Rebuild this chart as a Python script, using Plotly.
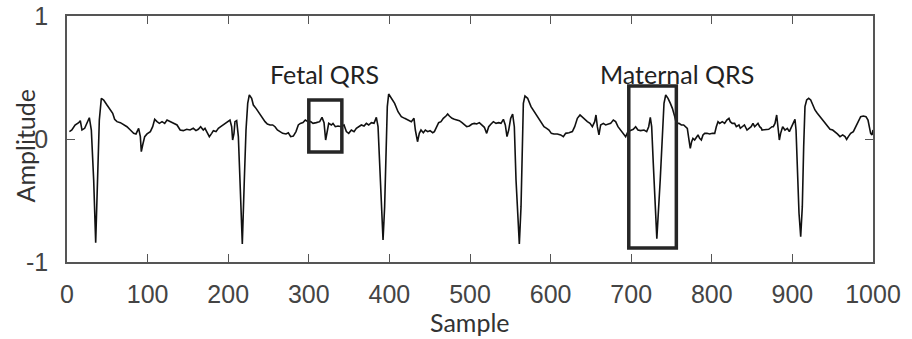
import plotly.graph_objects as go

# ---- data (sample index, amplitude) ----
sample = [
    3, 6, 10, 14.5, 16.5, 18.6, 21.9, 24.8, 27.7, 30.2, 33.1, 35.6, 38.0, 40.1, 42.6, 45.5, 49.6, 53.8,
    56.7, 59.1, 62.0, 66.2, 70.3, 74.4, 78.6, 82.7, 85.6, 88.9, 91.0, 92.2, 93.9, 96.4, 99.3, 103.4,
    106.3, 108.8, 111.7, 114.6, 117.9, 121.2, 124.1, 128.2, 132.3, 136.5, 140.4, 144.3, 148.5, 152.6,
    156.7, 160.0, 162.9, 165.8, 169.1, 171.2, 173.3, 176.6, 179.5, 181.6, 184.9, 187.8, 190.7, 194.0,
    197.3, 200.2, 202.2, 204.3, 205.5, 207.2, 208.4, 210.5, 212.6, 214.6, 217.5, 220.0, 222.1, 224.2,
    226.2, 229.1, 231.2, 234.5, 237.4, 239.5, 242.8, 245.7, 248.6, 251.9, 255.2, 258.1, 261.0, 264.3,
    267.6, 271.7, 274.6, 277.5, 280.8, 284.1, 287.0, 289.5, 292.8, 295.7, 299.0, 302.3, 305.2, 309.3,
    313.5, 316.4, 318.9, 320.9, 323.0, 324.7, 328.0, 330.0, 332.9, 336.2, 340.4, 343.7, 346.6, 349.5,
    352.8, 356.1, 359.0, 361.9, 365.2, 368.5, 371.4, 374.3, 377.6, 380.9, 383.8, 385.9, 387.9, 390.0,
    392.1, 394.1, 395.8, 397.4, 399.1, 402.4, 406.5, 410.7, 414.8, 418.9, 423.1, 427.2, 430.5, 432.2,
    434.9, 437.1, 439.2, 442.1, 444.6, 447.5, 450.4, 453.7, 455.8, 458.6, 461.1, 464.0, 466.9, 470.2,
    472.3, 474.4, 477.7, 480.6, 483.5, 486.8, 490.1, 493.0, 495.9, 499.2, 502.5, 505.4, 508.3, 511.6,
    514.9, 517.8, 520.7, 523.2, 526.1, 529.0, 532.3, 535.6, 538.5, 541.4, 543.8, 545.9, 548.0, 550.5,
    552.9, 555.0, 557.1, 559.1, 561.2, 563.3, 564.5, 566.2, 568.2, 571.5, 575.7, 579.8, 582.7, 585.6,
    588.5, 591.8, 595.1, 598.0, 600.9, 604.2, 608.4, 612.5, 615.8, 618.7, 622.8, 627.0, 629.9, 633.2,
    636.5, 639.4, 642.3, 645.6, 648.9, 651.8, 654.7, 656.3, 658.0, 660.0, 662.1, 665.4, 668.3, 671.2,
    674.5, 677.8, 680.7, 683.6, 686.9, 690.2, 693.1, 696.0, 699.3, 702.6, 705.5, 708.4, 711.8, 715.9,
    719.2, 721.7, 723.7, 725.4, 727.4, 729.5, 731.8, 736.0, 738.5, 740.7, 742.8, 745.7, 748.6, 751.1,
    754.0, 756.0, 759.3, 762.2, 765.1, 767.6, 769.6, 771.7, 773.3, 775.0, 776.6, 778.7, 780.7, 782.9,
    784.9, 787.0, 789.1, 791.2, 794.0, 797.4, 800.7, 803.6, 805.6, 807.7, 809.8, 813.0, 815.9, 818.6,
    821.3, 822.9, 825.4, 828.3, 830.4, 833.7, 835.4, 837.9, 840.5, 843.7, 846.2, 848.8, 851.1, 853.2,
    855.3, 857.3, 859.4, 861.5, 862.3, 866.4, 870.6, 874.7, 876.3, 878.4, 880.5, 882.5, 883.8, 885.4,
    887.9, 890.8, 893.7, 896.2, 899.1, 901.2, 903.2, 904.5, 906.1, 908.2, 910.3, 912.3, 914.0, 915.6,
    917.7, 920.2, 922.7, 925.1, 928.0, 930.9, 934.2, 937.5, 940.4, 943.3, 946.7, 950.0, 952.9, 955.8,
    959.1, 962.4, 965.3, 967.3, 969.4, 972.3, 975.6, 978.9, 981.8, 984.7, 988.0, 991.3, 993.8, 995.5,
    997.1, 998.8, 1000,
]
amplitude = [
    0.060, 0.073, 0.114, 0.133, 0.149, 0.073, 0.087, 0.127, 0.173, 0.073, -0.333, -0.843, -0.333, 0.154,
    0.331, 0.317, 0.276, 0.236, 0.209, 0.160, 0.141, 0.133, 0.114, 0.100, 0.073, 0.046, 0.041, 0.087,
    0.019, -0.103, -0.049, 0.019, 0.041, 0.060, 0.100, 0.160, 0.141, 0.127, 0.141, 0.127, 0.154, 0.141,
    0.127, 0.114, 0.073, 0.068, 0.079, 0.073, 0.087, 0.068, 0.079, 0.100, 0.073, 0.087, 0.060, 0.019,
    0.046, 0.068, 0.060, 0.087, 0.100, 0.114, 0.127, 0.141, 0.154, 0.100, -0.008, 0.046, 0.141, 0.149,
    0.019, -0.333, -0.854, -0.333, 0.073, 0.290, 0.358, 0.331, 0.276, 0.249, 0.222, 0.195, 0.168, 0.141,
    0.122, 0.114, 0.114, 0.100, 0.073, 0.060, 0.046, 0.041, 0.051, 0.019, 0.024, 0.060, 0.114, 0.127,
    0.133, 0.154, 0.141, 0.141, 0.127, 0.133, 0.141, 0.176, 0.133, -0.008, 0.073, 0.127, 0.114, 0.127,
    0.100, 0.106, 0.100, 0.114, 0.060, 0.046, 0.073, 0.060, 0.087, 0.100, 0.114, 0.106, 0.127, 0.114,
    0.133, 0.127, 0.176, 0.100, -0.198, -0.604, -0.821, -0.550, -0.062, 0.263, 0.366, 0.331, 0.290,
    0.222, 0.182, 0.168, 0.154, 0.141, 0.168, 0.073, -0.022, 0.046, 0.073, 0.051, 0.073, 0.060, 0.068,
    0.051, 0.060, 0.100, 0.133, 0.141, 0.168, 0.187, 0.203, 0.187, 0.168, 0.160, 0.154, 0.149, 0.133,
    0.114, 0.100, 0.106, 0.122, 0.127, 0.122, 0.133, 0.114, 0.095, 0.046, 0.100, 0.122, 0.141, 0.127,
    0.133, 0.127, 0.160, 0.114, 0.019, 0.073, 0.168, 0.203, 0.100, -0.333, -0.659, -0.854, -0.550,
    -0.062, 0.290, 0.350, 0.331, 0.263, 0.222, 0.195, 0.168, 0.141, 0.100, 0.087, 0.073, 0.046, 0.041,
    0.041, 0.033, 0.019, 0.046, 0.051, 0.060, 0.100, 0.168, 0.195, 0.176, 0.160, 0.141, 0.127, 0.100,
    0.141, 0.195, 0.100, 0.033, 0.114, 0.127, 0.114, 0.122, 0.127, 0.154, 0.141, 0.100, 0.073, 0.046,
    0.019, 0.060, 0.073, 0.079, 0.100, 0.073, 0.068, 0.073, 0.060, 0.100, 0.176, 0.100, -0.198, -0.550,
    -0.810, -0.333, 0.073, 0.290, 0.358, 0.331, 0.290, 0.249, 0.182, 0.127, 0.127, 0.114, 0.114, 0.100,
    0.087, -0.008, -0.076, -0.022, 0.005, -0.008, 0.014, 0.033, 0.005, -0.008, 0.033, 0.046, 0.046,
    0.041, 0.046, 0.046, 0.100, 0.141, 0.127, 0.141, 0.127, 0.154, 0.168, 0.141, 0.127, 0.127, 0.100,
    0.114, 0.087, 0.100, 0.114, 0.073, 0.087, 0.100, 0.127, 0.100, 0.114, 0.127, 0.100, 0.087, 0.073,
    0.073, 0.079, 0.100, 0.100, 0.127, 0.195, 0.073, -0.008, 0.046, 0.100, 0.073, 0.087, 0.060, 0.100,
    0.141, 0.160, 0.073, -0.198, -0.604, -0.794, -0.550, -0.062, 0.263, 0.317, 0.331, 0.317, 0.276,
    0.236, 0.209, 0.182, 0.154, 0.127, 0.100, 0.079, 0.073, 0.060, 0.041, 0.019, 0.033, 0.019, -0.003,
    0.019, 0.046, 0.060, 0.100, 0.141, 0.182, 0.187, 0.182, 0.154, 0.100, 0.046, 0.033, 0.073,
]

x_ticks = [0, 100, 200, 300, 400, 500, 600, 700, 800, 900, 1000]
y_ticks = [-1, 0, 1]
y_tick_labels = ["-1", "0", "1"]

fig = go.Figure()
fig.add_trace(go.Scatter(
    x=sample, y=amplitude, mode="lines",
    line=dict(color="#111111", width=1.6),
    showlegend=False, hoverinfo="skip",
))

box_style = dict(type="rect", xref="x", yref="y", line=dict(color="#262626", width=3.5),
                 fillcolor="rgba(0,0,0,0)")
fig.add_shape(x0=300, x1=341, y0=-0.106, y1=0.317, **box_style)
fig.add_shape(x0=697, x1=756, y0=-0.886, y1=0.43, **box_style)

label_font = dict(family="Lato, Open Sans, sans-serif", size=25, color="#222222")
fig.add_annotation(x=320, y=0.53, text="Fetal QRS", showarrow=False, font=label_font,
                   xanchor="center", yanchor="middle")
fig.add_annotation(x=757, y=0.53, text="Maternal QRS", showarrow=False, font=label_font,
                   xanchor="center", yanchor="middle")

title_font = dict(family="Lato, Open Sans, sans-serif", size=25, color="#333333")
fig.add_annotation(xref="paper", yref="paper", x=0.5, y=-0.245, text="Sample",
                   showarrow=False, font=title_font, xanchor="center", yanchor="middle")
fig.add_annotation(xref="paper", yref="paper", x=-0.052, y=0.47, text="Amplitude",
                   textangle=-90, showarrow=False, font=title_font,
                   xanchor="center", yanchor="middle")

tick_font = dict(family="Liberation Sans, Arial", size=25, color="#444444")
axis_common = dict(
    showline=True, linecolor="#555555", linewidth=1.5, mirror="ticks",
    ticks="inside", ticklen=8, tickwidth=1.3, tickcolor="#555555",
    showgrid=False, zeroline=False, tickfont=tick_font, automargin=False,
    ticklabeloverflow="allow",
)
fig.update_xaxes(range=[0, 1000], tickvals=x_ticks, ticklabelstandoff=9, **axis_common)
fig.update_yaxes(range=[-1, 1], tickvals=y_ticks, ticktext=y_tick_labels, ticklabelstandoff=12,
                 **axis_common)

fig.update_layout(
    width=912, height=339,
    margin=dict(l=67, r=39, t=16, b=77),
    plot_bgcolor="white", paper_bgcolor="white",
)

# remove the browser's default body margin so the figure sits at the window's corner
fig.write_html("out.html", config={"displayModeBar": False},
               post_script="document.body.style.margin='0';")
